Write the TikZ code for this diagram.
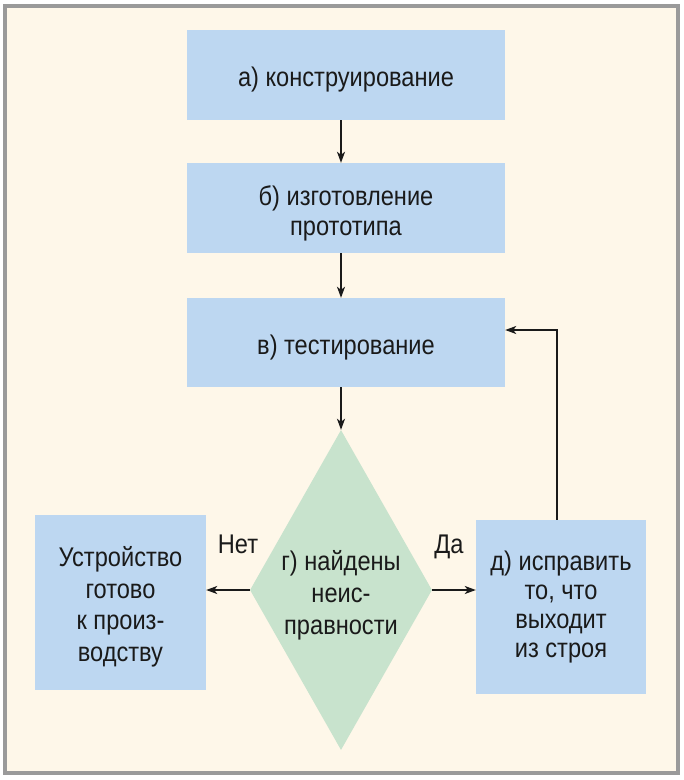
\documentclass[tikz,border=0pt]{standalone}
\usepackage{fontspec}
\setmainfont{Liberation Sans}[FakeStretch=0.875]
\usetikzlibrary{arrows.meta,shapes.geometric}
\definecolor{cream}{HTML}{FEF7E9}
\definecolor{frame}{HTML}{9A9A9A}
\definecolor{boxblue}{HTML}{BDD7F1}
\definecolor{diagreen}{HTML}{C8E3CD}
\definecolor{ink}{HTML}{1A1A1A}
\tikzset{
  box/.style={rectangle, fill=boxblue, draw=none, inner sep=0pt},
  txt/.style={inner sep=0pt, align=center, font=\fontsize{27}{30}\selectfont, text=ink},
  conn/.style={draw=ink, line width=1.6pt, -{Stealth[length=11pt,width=8pt,inset=3pt]}},
  lbl/.style={font=\fontsize{27}{30}\selectfont, text=ink, inner sep=0pt}
}
\begin{document}
\begin{tikzpicture}[x=1pt,y=-1pt]
\useasboundingbox (0,0) rectangle (684,780);
\draw[frame, line width=4pt, fill=cream] (5,6) rectangle (678,773);

\node[box, minimum width=318pt, minimum height=90pt] (a) at (346,75) {};
\node[txt] (at) at ([yshift=-5pt]a.center) {а) конструирование};
\node[box, minimum width=318pt, minimum height=90pt] (b) at (346,208) {};
\node[txt] (bt) at ([yshift=-5pt]b.center) {б) изготовление\\прототипа};
\node[box, minimum width=318pt, minimum height=89pt] (c) at (346,342.5) {};
\node[txt] (ct) at ([yshift=-5pt]c.center) {в) тестирование};
\node[diamond, fill=diagreen, draw=none, inner sep=0pt, minimum width=182pt, minimum height=320pt] (dia) at (341,590) {};
\node[txt, font=\fontsize{27}{32}\selectfont] (diatext) at (341,595) {г) найдены\\неис-\\правности};
\node[box, minimum width=171pt, minimum height=175pt] (L) at (120.5,602.5) {};
\node[txt, font=\fontsize{27}{31.5}\selectfont] (Lt) at ([yshift=-4.5pt]L.center) {Устройство\\готово\\к произ-\\водству};
\node[box, minimum width=170pt, minimum height=174pt] (d) at (561,607) {};
\node[txt, font=\fontsize{27}{29}\selectfont] (dt) at (d.center) {д) исправить\\то, что\\выходит\\из строя};

\node[lbl, anchor=base] (no) at (238,553) {Нет};
\node[lbl, anchor=base] (yes) at (449,553) {Да};

\draw[conn] (dia.north |- a.south) -- (dia.north |- b.north);
\draw[conn] (dia.north |- b.south) -- (dia.north |- c.north);
\draw[conn] (dia.north |- c.south) -- (dia.north);
\draw[conn] (dia.west) -- (L.east |- dia.west);
\draw[conn] (dia.east) -- (d.west |- dia.east);
\coordinate (lp) at (557,330);
\draw[conn] (lp |- d.north) -- (lp) -- (c.east |- lp);
\end{tikzpicture}
\end{document}
